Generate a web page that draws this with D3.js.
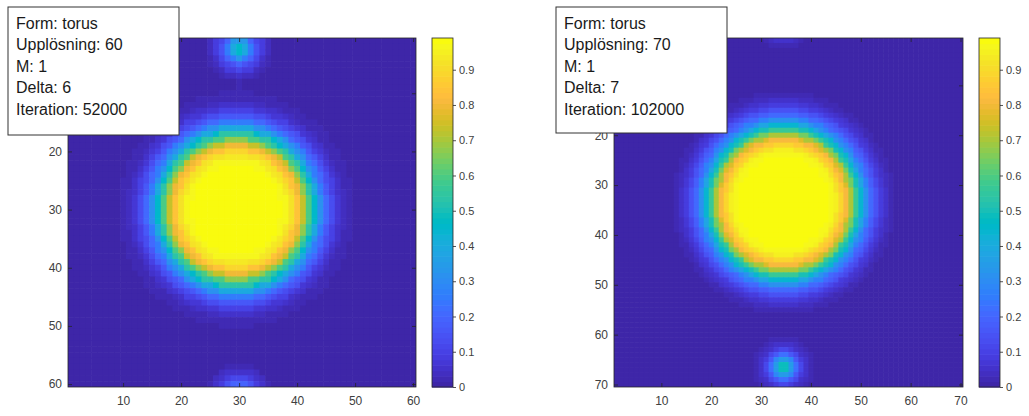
<!DOCTYPE html>
<html>
<head>
<meta charset="utf-8">
<style>
  body { margin: 0; background: #fff; }
  text { font-family: "Liberation Sans", Arial, sans-serif; }
</style>
</head>
<body>
<svg id="chart" width="1029" height="416"></svg>
<script src="https://d3js.org/d3.v7.min.js"></script>
<script>
// grid sizes (Upplösning)
var sizeLeft = 60;
var sizeRight = 70;

// radial profiles, one value every half cell from the blob centre
var bigLeft = [0.99,0.99,0.99,0.99,0.99,0.99,0.99,0.99,0.99,0.99,0.99,0.99,0.99,
  0.985,0.98,0.975,0.97,0.96,0.94,0.915,0.885,0.845,0.80,0.74,0.67,0.60,0.53,0.46,
  0.39,0.32,0.26,0.21,0.165,0.13,0.10,0.075,0.055,0.04,0.03,0.022,0.016,0.012,0.008,0.004,0];
var smallLeft = [0.48,0.45,0.40,0.33,0.26,0.20,0.15,0.11,0.08,0.055,0.035,0.022,0.014,0.008,0];
var bigRight = [0.99,0.99,0.99,0.99,0.99,0.99,0.99,0.99,0.99,0.99,0.99,0.99,0.99,0.99,0.99,0.99,
  0.985,0.98,0.975,0.97,0.96,0.945,0.925,0.895,0.86,0.81,0.76,0.70,0.635,0.57,0.505,0.44,
  0.38,0.32,0.265,0.215,0.175,0.14,0.11,0.085,0.065,0.05,0.038,0.028,0.02,0.015,0.01,0.005,0];
var smallRight = [0.52,0.48,0.42,0.35,0.28,0.22,0.17,0.12,0.085,0.06,0.04,0.026,0.017,0.01,0];

// blob centres (column, row)
var blobsLeft = [{cx: 29.5, cy: 30, prof: bigLeft}, {cx: 30, cy: 2.3, prof: smallLeft}];
var blobsRight = [{cx: 34.5, cy: 33.5, prof: bigRight}, {cx: 34.5, cy: 66.5, prof: smallRight}];

var ticksLeft = [10, 20, 30, 40, 50, 60];
var ticksRight = [10, 20, 30, 40, 50, 60, 70];
var cbTicks = [0, 0.1, 0.2, 0.3, 0.4, 0.5, 0.6, 0.7, 0.8, 0.9];

var infoLeft = ["Form: torus", "Upplösning: 60", "M: 1", "Delta: 6", "Iteration: 52000"];
var infoRight = ["Form: torus", "Upplösning: 70", "M: 1", "Delta: 7", "Iteration: 102000"];

// parula, 64 entries
var parula = [
[0.2422,0.1504,0.6603],[0.2504,0.1650,0.7076],[0.2578,0.1818,0.7511],[0.2647,0.1978,0.7952],
[0.2706,0.2147,0.8364],[0.2751,0.2342,0.8710],[0.2783,0.2559,0.8991],[0.2803,0.2782,0.9221],
[0.2813,0.3006,0.9414],[0.2810,0.3228,0.9579],[0.2795,0.3447,0.9717],[0.2760,0.3667,0.9829],
[0.2699,0.3892,0.9906],[0.2602,0.4123,0.9952],[0.2440,0.4358,0.9988],[0.2206,0.4603,0.9973],
[0.1963,0.4847,0.9892],[0.1834,0.5074,0.9798],[0.1786,0.5289,0.9682],[0.1764,0.5499,0.9520],
[0.1687,0.5703,0.9359],[0.1540,0.5902,0.9218],[0.1460,0.6091,0.9079],[0.1380,0.6276,0.8973],
[0.1248,0.6459,0.8883],[0.1113,0.6635,0.8763],[0.0952,0.6798,0.8598],[0.0689,0.6948,0.8394],
[0.0297,0.7082,0.8163],[0.0036,0.7203,0.7917],[0.0067,0.7312,0.7660],[0.0433,0.7411,0.7394],
[0.0964,0.7500,0.7120],[0.1408,0.7584,0.6842],[0.1717,0.7670,0.6554],[0.1938,0.7758,0.6251],
[0.2161,0.7843,0.5923],[0.2470,0.7918,0.5567],[0.2906,0.7973,0.5188],[0.3406,0.8008,0.4789],
[0.3909,0.8029,0.4354],[0.4456,0.8024,0.3909],[0.5044,0.7993,0.3480],[0.5616,0.7942,0.3045],
[0.6174,0.7876,0.2612],[0.6720,0.7793,0.2227],[0.7242,0.7698,0.1910],[0.7738,0.7598,0.1646],
[0.8203,0.7498,0.1535],[0.8634,0.7406,0.1596],[0.9035,0.7330,0.1774],[0.9393,0.7288,0.2100],
[0.9728,0.7298,0.2394],[0.9956,0.7434,0.2371],[0.9970,0.7659,0.2199],[0.9952,0.7893,0.2028],
[0.9892,0.8136,0.1885],[0.9804,0.8384,0.1773],[0.9696,0.8637,0.1676],[0.9626,0.8880,0.1541],
[0.9589,0.9136,0.1417],[0.9598,0.9399,0.1262],[0.9661,0.9673,0.1088],[0.9763,0.9831,0.0538]
].map(c => d3.rgb(c[0] * 255, c[1] * 255, c[2] * 255).formatHex());

var svg = d3.select("#chart");
var axisCol = "#262626";

// build the grid for one panel: each cell looks up the profile of every blob (torus distance)
function buildGrid(n, blobs) {
  var cells = [];
  for (var r = 1; r <= n; r++) {
    for (var c = 1; c <= n; c++) {
      var v = 0;
      blobs.forEach(b => {
        var dx = Math.abs(c - b.cx); dx = Math.min(dx, n - dx);
        var dy = Math.abs(r - b.cy); dy = Math.min(dy, n - dy);
        var k = Math.round(Math.sqrt(dx * dx + dy * dy) * 2);
        v += k < b.prof.length ? b.prof[k] : 0;
      });
      cells.push({row: r, col: c, v: v});
    }
  }
  return cells;
}

function drawPanel(n, blobs, ticks, info, L, R, T, B, cbX, boxX, boxW, boxH) {
  var cells = buildGrid(n, blobs);
  var vmax = d3.max(cells, d => d.v);
  var x = d3.scaleLinear().domain([0.5, n + 0.5]).range([L, R]);
  var y = d3.scaleLinear().domain([0.5, n + 0.5]).range([T, B]);
  var color = d3.scaleQuantize().domain([0, vmax]).range(parula);

  var g = svg.append("g");
  g.append("g").selectAll("rect")
    .data(cells)
    .enter().append("rect")
      .attr("x", d => x(d.col - 0.5))
      .attr("y", d => y(d.row - 0.5))
      .attr("width", d => x(d.col + 0.5) - x(d.col - 0.5) + 0.6)
      .attr("height", d => y(d.row + 0.5) - y(d.row - 0.5) + 0.6)
      .attr("fill", d => color(d.v));

  // clip overflow of the last row/column
  g.append("rect").attr("x", R).attr("y", T).attr("width", 2).attr("height", B - T + 2).attr("fill", "#fff");
  g.append("rect").attr("x", L).attr("y", B).attr("width", R - L + 2).attr("height", 2).attr("fill", "#fff");

  // the y label "10" sits under the info box in the original, so it is left blank
  var yFmt = d => d === 10 ? "" : d;
  var axes = [
    [d3.axisBottom(x).tickValues(ticks).tickSize(-4).tickPadding(9), "translate(0," + B + ")"],
    [d3.axisLeft(y).tickValues(ticks).tickSize(-4).tickPadding(6).tickFormat(yFmt), "translate(" + L + ",0)"],
    [d3.axisTop(x).tickValues(ticks).tickSize(-4).tickFormat(""), "translate(0," + T + ")"],
    [d3.axisRight(y).tickValues(ticks).tickSize(-4).tickFormat(""), "translate(" + R + ",0)"]
  ];
  axes.forEach(a => {
    var ag = g.append("g").attr("transform", a[1]).call(a[0]);
    ag.select(".domain").remove();
    ag.selectAll("line").attr("stroke", axisCol).attr("stroke-width", 0.8);
    ag.selectAll("text").attr("fill", "#404040").style("font-size", "12px");
  });
  g.append("rect")
    .attr("x", L).attr("y", T).attr("width", R - L).attr("height", B - T)
    .attr("fill", "none").attr("stroke", axisCol).attr("stroke-width", 0.8);

  // colorbar
  var cbW = 21;
  var cy = d3.scaleLinear().domain([0, vmax]).range([B, T]);
  var steps = d3.range(64);
  g.append("g").selectAll("rect")
    .data(steps)
    .enter().append("rect")
      .attr("x", cbX)
      .attr("y", i => cy((i + 1) * vmax / 64))
      .attr("width", cbW)
      .attr("height", i => cy(i * vmax / 64) - cy((i + 1) * vmax / 64) + 0.6)
      .attr("fill", i => parula[i]);
  var cbAxis = g.append("g")
    .attr("transform", "translate(" + (cbX + cbW) + ",0)")
    .call(d3.axisRight(cy).tickValues(cbTicks).tickSize(3).tickPadding(3).tickFormat(d3.format("")));
  cbAxis.select(".domain").remove();
  cbAxis.selectAll("line").attr("stroke", axisCol).attr("stroke-width", 0.8);
  cbAxis.selectAll("text").attr("fill", "#404040").style("font-size", "11px");
  g.append("rect")
    .attr("x", cbX).attr("y", T).attr("width", cbW).attr("height", B - T)
    .attr("fill", "none").attr("stroke", axisCol).attr("stroke-width", 0.8);

  // info box
  var box = g.append("g");
  box.append("rect")
    .attr("x", boxX).attr("y", 7).attr("width", boxW).attr("height", boxH)
    .attr("fill", "#fff").attr("stroke", "#333").attr("stroke-width", 1);
  box.selectAll("text")
    .data(info)
    .enter().append("text")
      .attr("x", boxX + 8)
      .attr("y", (d, i) => 28.5 + i * 21.5)
      .attr("fill", "#1a1a1a")
      .style("font-size", "16px")
      .text(d => d);
}

drawPanel(sizeLeft, blobsLeft, ticksLeft, infoLeft, 68, 416, 38, 387, 432, 8, 171, 128);
drawPanel(sizeRight, blobsRight, ticksRight, infoRight, 614, 963, 38, 387, 979, 556, 171, 126);
</script>
</body>
</html>
